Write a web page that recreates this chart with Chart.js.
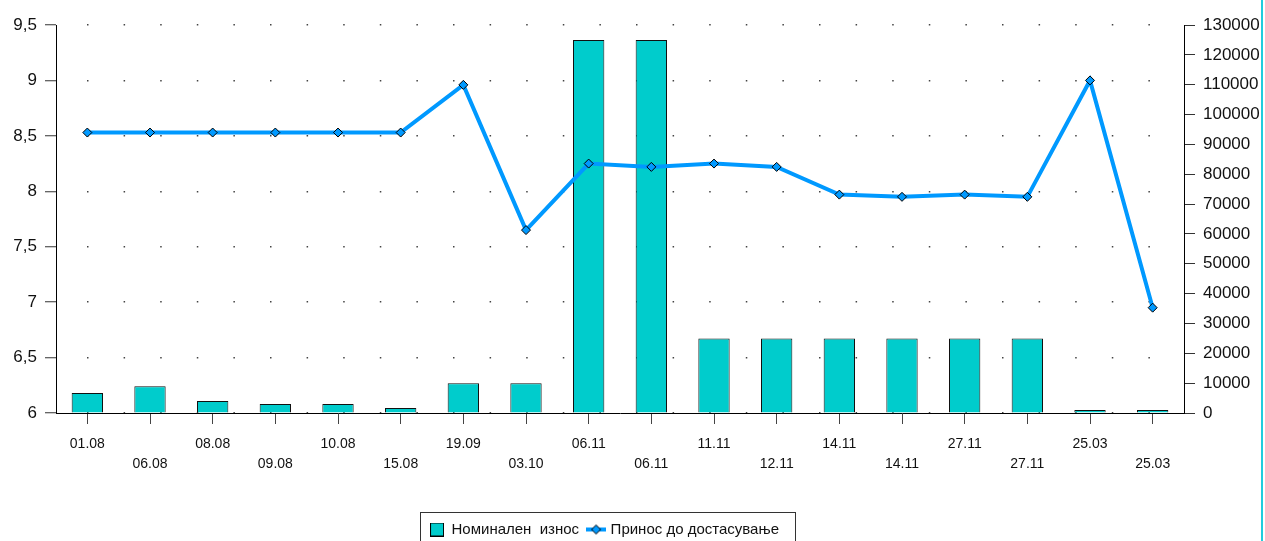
<!DOCTYPE html>
<html>
<head>
<meta charset="utf-8">
<script src="https://cdn.jsdelivr.net/npm/chart.js@4"></script>
<style>
	html, body { margin: 0; padding: 0; background: #fff; }
	#wrap { position: relative; width: 1261px; height: 541px; border-right: 2px solid #22ccdd; }
</style>
</head>
<body>
<div id="wrap"><canvas id="chart"></canvas></div>
<script>
// dates of the issues
const labels = ['01.08', '06.08', '08.08', '09.08', '10.08', '15.08', '19.09', '03.10', '06.11',
	'06.11', '11.11', '12.11', '14.11', '14.11', '27.11', '27.11', '25.03', '25.03'];
// Номинален износ (right axis)
const nominal = [6700, 9000, 4000, 3000, 3000, 1700, 10000, 10000, 125000,
	125000, 25000, 25000, 25000, 25000, 25000, 25000, 1000, 1000];
// Принос до достасување (left axis)
const yields = [8.53, 8.53, 8.53, 8.53, 8.53, 8.53, 8.96, 7.65, 8.25,
	8.22, 8.25, 8.22, 7.97, 7.95, 7.97, 7.95, 9.0, 6.95];
const seriesNames = ['Номинален  износ', 'Принос до достасување'];
const leftRange = [6, 9.5, 0.5];
const rightRange = [0, 130000, 10000];

const FONT = "'Liberation Sans', Arial, sans-serif";
const BAR_COLOR = '#00cccc';
const LINE_COLOR = '#0099ff';
const LEGEND_SHIFT = 26;

function makeIcon(w, h, draw) {
	const c = document.createElement('canvas');
	c.width = w;
	c.height = h;
	draw(c.getContext('2d'));
	return c;
}

const barIcon = makeIcon(14, 14, g => {
	g.fillStyle = BAR_COLOR;
	g.fillRect(0.5, 0.5, 13, 13);
	g.strokeStyle = '#000';
	g.lineWidth = 1;
	g.strokeRect(0.5, 0.5, 13, 13);
});

const lineIcon = makeIcon(20, 12, g => {
	g.strokeStyle = LINE_COLOR;
	g.lineWidth = 4;
	g.beginPath();
	g.moveTo(0, 6);
	g.lineTo(20, 6);
	g.stroke();
	g.beginPath();
	g.moveTo(5.5, 6);
	g.lineTo(10, 1.5);
	g.lineTo(14.5, 6);
	g.lineTo(10, 10.5);
	g.closePath();
	g.fillStyle = LINE_COLOR;
	g.fill();
	g.lineWidth = 1;
	g.strokeStyle = '#000';
	g.stroke();
});

// legend sits a little left of centre in the original, and has a frame
const legendFrame = {
	id: 'legendFrame',
	afterUpdate(chart) {
		const lg = chart.legend;
		if (!lg) return;
		lg.left -= LEGEND_SHIFT;
		lg.right -= LEGEND_SHIFT;
		lg.legendHitBoxes.forEach(b => { b.left -= LEGEND_SHIFT; });
	},
	afterDraw(chart) {
		const boxes = chart.legend && chart.legend.legendHitBoxes;
		if (!boxes || !boxes.length) return;
		const first = boxes[0];
		const last = boxes[boxes.length - 1];
		const ctx = chart.ctx;
		const mid = first.top + first.height / 2;
		const l = Math.round(first.left - 10) + 0.5;
		const t = Math.round(mid - 18) + 0.5;
		const r = Math.round(last.left + last.width + 16) + 0.5;
		ctx.save();
		ctx.strokeStyle = '#333';
		ctx.lineWidth = 1;
		ctx.strokeRect(l, t, r - l, chart.height - t + 10);
		ctx.restore();
	}
};

const ctx = document.getElementById('chart').getContext('2d');
new Chart(ctx, {
	type: 'bar',
	data: {
		labels: labels,
		datasets: [{
			type: 'bar',
			label: seriesNames[0],
			data: nominal,
			yAxisID: 'y1',
			backgroundColor: BAR_COLOR,
			borderColor: '#111',
			borderWidth: 1,
			barPercentage: 0.5,
			categoryPercentage: 1.0,
			order: 1
		}, {
			type: 'line',
			label: seriesNames[1],
			data: yields,
			yAxisID: 'y',
			borderColor: LINE_COLOR,
			borderWidth: 4,
			tension: 0,
			pointStyle: 'rectRot',
			pointRadius: 4.5,
			pointBackgroundColor: LINE_COLOR,
			pointBorderColor: '#000',
			pointBorderWidth: 1,
			order: 0
		}]
	},
	options: {
		responsive: true,
		maintainAspectRatio: false,
		animation: false,
		events: [],
		layout: { padding: { top: 25, left: 0, right: 0, bottom: -6 } },
		scales: {
			x: {
				offset: true,
				grid: {
					display: true,
					drawOnChartArea: false,
					offset: false,
					tickLength: 11,
					tickWidth: 1,
					tickColor: '#444',
					color: '#444'
				},
				border: { display: true, color: '#000', width: 1 },
				ticks: {
					autoSkip: false,
					maxRotation: 0,
					padding: 10,
					color: '#111',
					font: { family: FONT, size: 14, lineHeight: 20 / 14 },
					callback: function (value, index) {
						const text = labels[index];
						return index % 2 === 0 ? [text, ''] : ['', text];
					}
				},
				afterFit: scale => { scale.height = 99; }
			},
			y: {
				position: 'left',
				min: leftRange[0],
				max: leftRange[1],
				grid: {
					color: '#444',
					lineWidth: 1.5,
					tickLength: 11,
					tickWidth: 1,
					tickColor: '#333'
				},
				border: { display: true, color: '#000', width: 1, dash: [1.5, 35.1], dashOffset: 6.6 },
				ticks: {
					stepSize: leftRange[2],
					padding: 8,
					color: '#111',
					font: { family: FONT, size: 17 },
					callback: v => String(v).replace('.', ',')
				},
				afterFit: scale => { scale.width = 56; }
			},
			y1: {
				position: 'right',
				min: rightRange[0],
				max: rightRange[1],
				grid: {
					drawOnChartArea: false,
					tickLength: 11,
					tickWidth: 1,
					tickColor: '#333'
				},
				border: { display: true, color: '#000', width: 1 },
				ticks: {
					stepSize: rightRange[2],
					padding: 8,
					color: '#111',
					font: { family: FONT, size: 17 },
					callback: v => String(v)
				},
				afterFit: scale => { scale.width = 77; }
			}
		},
		plugins: {
			tooltip: { enabled: false },
			legend: {
				position: 'bottom',
				labels: {
					usePointStyle: true,
					pointStyleWidth: 14,
					padding: 10,
					color: '#111',
					font: { family: FONT, size: 15 },
					generateLabels: () => [
						{ text: seriesNames[0], pointStyle: barIcon, datasetIndex: 0, hidden: false, lineWidth: 0, fontColor: '#111' },
						{ text: seriesNames[1], pointStyle: lineIcon, datasetIndex: 1, hidden: false, lineWidth: 0, fontColor: '#111' }
					]
				}
			}
		}
	},
	plugins: [legendFrame]
});
</script>
</body>
</html>
